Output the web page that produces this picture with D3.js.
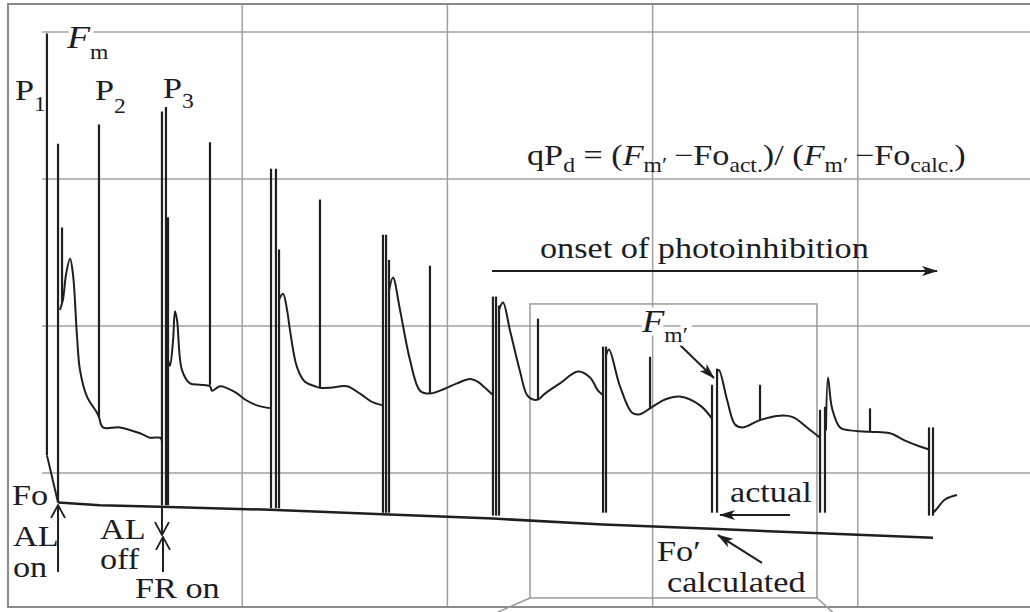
<!DOCTYPE html>
<meta charset="utf-8">
<style>
html, body { margin: 0; padding: 0; background: #fff; }
svg { display: block; }
.grid line { stroke: #a0a0a0; stroke-width: 1.5; }
.frame { fill: none; stroke: #8a8a8a; stroke-width: 2; }
.inset { fill: none; stroke: #9a9a9a; stroke-width: 1.5; }
.trace { fill: none; stroke: #1f1f1f; stroke-width: 2; stroke-linejoin: round; }
.pulse { stroke: #1f1f1f; stroke-width: 2.2; }
.foline { fill: none; stroke: #1f1f1f; stroke-width: 2.5; }
.arrow { stroke: #1f1f1f; stroke-width: 2; fill: none; }
text { font-family: "Liberation Serif", "Times New Roman", serif; font-size: 29px; fill: #1c1c24; }
</style>
<body>
<script src="https://cdn.jsdelivr.net/npm/d3@7"></script>
<script>

// time in s, fluorescence in relative units
var gridT = [20, 40, 60, 80];
var gridF = [1, 2, 3, 4];

// saturating pulses and light switching: [t, F low, F high]
var pulses = [
  [0.97, 1.12, 3.99], [2.05, 0.80, 3.24], [2.44, 2.16, 2.67], [6.04, 1.38, 3.37],
  [12.18, 0.78, 3.46], [12.57, 0.78, 3.49], [12.77, 0.78, 2.74], [16.86, 1.60, 3.25],
  [22.81, 0.76, 3.07], [23.29, 0.76, 3.07], [23.59, 0.76, 2.52], [27.58, 1.58, 2.86],
  [33.72, 0.73, 2.62], [34.02, 0.73, 2.62], [34.31, 0.73, 2.45], [38.30, 1.54, 2.41],
  [44.44, 0.71, 2.20], [44.74, 0.71, 2.20], [45.03, 0.71, 2.14], [48.83, 1.50, 2.05],
  [55.17, 0.73, 1.86], [55.46, 0.73, 1.86], [59.75, 1.44, 1.79],
  [65.79, 0.73, 1.60], [66.28, 0.73, 1.71], [70.47, 1.36, 1.60],
  [76.32, 0.73, 1.43], [76.80, 0.73, 1.45], [81.19, 1.28, 1.44],
  [86.94, 0.71, 1.31], [87.33, 0.71, 1.31]
];

// fluorescence trace between the pulses
var seg0 = [[0.97, 1.12], [2.05, 0.80]];
var seg1 = [[2.24, 2.11], [2.53, 2.18], [2.83, 2.35], [3.22, 2.46], [3.51, 2.35], [3.90, 1.93], [4.19, 1.70], [4.87, 1.52], [5.85, 1.41], [6.04, 1.38], [6.43, 1.31], [8.09, 1.31], [10.04, 1.27], [11.01, 1.24], [11.99, 1.24], [12.18, 1.22]];
var seg2 = [[12.77, 1.77], [12.96, 1.73], [13.26, 1.90], [13.45, 2.10], [13.65, 2.04], [14.13, 1.70], [14.91, 1.61], [15.89, 1.60], [16.86, 1.59], [17.06, 1.56], [17.84, 1.59], [19.30, 1.55], [20.27, 1.50], [21.44, 1.46], [22.81, 1.44]];
var seg3 = [[23.59, 2.18], [23.98, 2.22], [24.37, 2.11], [24.66, 1.97], [25.34, 1.72], [26.12, 1.62], [27.10, 1.59], [27.58, 1.58], [28.56, 1.58], [30.21, 1.59], [31.48, 1.54], [32.75, 1.48], [33.72, 1.46]];
var seg4 = [[34.31, 2.24], [34.70, 2.33], [35.38, 2.11], [36.35, 1.77], [37.33, 1.56], [38.30, 1.54], [39.28, 1.56], [40.94, 1.61], [42.20, 1.64], [42.98, 1.62], [43.66, 1.58], [44.44, 1.53]];
var seg5 = [[45.03, 2.11], [45.42, 2.16], [46.10, 1.97], [47.08, 1.69], [47.76, 1.53], [48.34, 1.50], [48.83, 1.50], [49.51, 1.54], [50.97, 1.61], [52.73, 1.69], [53.90, 1.65], [54.68, 1.56], [55.17, 1.53]];
var seg6 = [[55.46, 1.80], [55.75, 1.84], [56.82, 1.59], [58.00, 1.41], [58.77, 1.40], [59.75, 1.44], [61.21, 1.50], [62.67, 1.52], [64.62, 1.46], [65.79, 1.37]];
var seg7 = [[66.28, 1.69], [66.47, 1.70], [67.25, 1.50], [68.03, 1.33], [68.81, 1.31], [70.47, 1.36], [72.42, 1.39], [73.68, 1.38], [75.05, 1.31], [76.32, 1.24]];
var seg8 = [[76.90, 1.29], [77.10, 1.65], [77.49, 1.44], [78.27, 1.31], [79.24, 1.29], [81.19, 1.28], [83.14, 1.27], [84.60, 1.22], [86.06, 1.18], [86.94, 1.16]];
var seg9 = [[87.33, 0.73], [87.62, 0.75], [88.50, 0.82], [89.67, 0.85]];
var segments = [seg0, seg1, seg2, seg3, seg4, seg5, seg6, seg7, seg8, seg9];

// calculated Fo' baseline
var foCalc = [[2.05, 0.80], [6.14, 0.78], [11.99, 0.77], [22.71, 0.75], [33.72, 0.72], [44.44, 0.69], [55.17, 0.65], [65.79, 0.62], [76.32, 0.59], [87.33, 0.56]];

var W = 1030, H = 612, SX = 1.18;

var x = d3.scaleLinear().domain([0, 100]).range([37, 1063]);
var y = d3.scaleLinear().domain([0, 4]).range([620, 32]);

var svg = d3.select("body").append("svg").attr("width", W).attr("height", H);

var defs = svg.append("defs");
defs.append("marker").attr("id", "head")
    .attr("markerUnits", "userSpaceOnUse")
    .attr("markerWidth", 16).attr("markerHeight", 10)
    .attr("refX", 15).attr("refY", 5).attr("orient", "auto")
  .append("path").attr("d", "M0,0 L16,5 L0,10 L4,5 Z").attr("fill", "#1f1f1f");
defs.append("marker").attr("id", "vee")
    .attr("markerUnits", "userSpaceOnUse")
    .attr("markerWidth", 14).attr("markerHeight", 16)
    .attr("refX", 13).attr("refY", 8).attr("orient", "auto")
  .append("path").attr("d", "M0,1 L13,8 L0,15").attr("fill", "none")
    .attr("stroke", "#1f1f1f").attr("stroke-width", 1.8);

// grid
var grid = svg.append("g").attr("class", "grid");
grid.selectAll(".gv").data(gridT).enter().append("line")
    .attr("x1", d => x(d)).attr("x2", d => x(d)).attr("y1", 4).attr("y2", 607);
grid.selectAll(".gh").data(gridF).enter().append("line")
    .attr("x1", x(0.5)).attr("x2", W).attr("y1", d => y(d)).attr("y2", d => y(d));

// frame
svg.append("path").attr("class", "frame")
    .attr("d", "M" + (W + 5) + ",4 H8 V607 H" + (W + 5));

// inset box with callout lines
var box = [48.05, 76.02, 0.15, 2.15];
svg.append("rect").attr("class", "inset")
    .attr("x", x(box[0])).attr("y", y(box[3]))
    .attr("width", x(box[1]) - x(box[0])).attr("height", y(box[2]) - y(box[3]));
svg.append("line").attr("class", "inset")
    .attr("x1", x(box[0])).attr("y1", y(box[2])).attr("x2", x(44.8)).attr("y2", y(0.05));
svg.append("line").attr("class", "inset")
    .attr("x1", x(box[1])).attr("y1", y(box[2])).attr("x2", x(77.6)).attr("y2", y(0.05));

// Fo' calculated
var line = d3.line().x(d => x(d[0])).y(d => y(d[1]));
svg.append("path").attr("class", "foline").attr("d", line(foCalc));

// trace
var curve = d3.line().x(d => x(d[0])).y(d => y(d[1])).curve(d3.curveCatmullRom.alpha(0.5));
svg.selectAll(".trace").data(segments).enter().append("path")
    .attr("class", "trace").attr("d", d => curve(d));
svg.selectAll(".pulse").data(pulses).enter().append("line")
    .attr("class", "pulse")
    .attr("x1", d => x(d[0])).attr("x2", d => x(d[0]))
    .attr("y1", d => y(d[1])).attr("y2", d => y(d[2]));

// arrows
function arrow(a, b, m) {
  svg.append("line").attr("class", "arrow")
      .attr("x1", x(a[0])).attr("y1", y(a[1])).attr("x2", x(b[0])).attr("y2", y(b[1]))
      .attr("marker-end", "url(#" + m + ")");
}
arrow([44.35, 2.374], [87.72, 2.374], "head");
arrow([73.39, 0.714], [66.57, 0.714], "head");
arrow([70.66, 0.388], [66.37, 0.578], "head");
arrow([62.67, 1.871], [65.98, 1.646], "head");
arrow([2.05, 0.327], [2.05, 0.782], "vee");
arrow([12.18, 0.776], [12.18, 0.578], "vee");
arrow([12.28, 0.327], [12.28, 0.565], "vee");

// labels: parts are [text, baseline shift, italic, size]
function label(px, py, parts, halo) {
  var t = svg.append("text")
      .attr("transform", "translate(" + px + "," + py + ") scale(" + SX + ",1)");
  var shift = 0;
  parts.forEach(function(p) {
    var s = t.append("tspan").text(p[0]);
    var sh = p[1] || 0;
    if (sh - shift) s.attr("dy", sh - shift);
    shift = sh;
    if (sh) s.style("font-size", "20px");
    if (p[2]) s.style("font-style", "italic");
    if (p[3]) s.style("font-size", p[3] + "px");
  });
  if (halo) t.attr("stroke", "#fff").attr("stroke-width", 7).attr("paint-order", "stroke");
}

label(15, 100, [["P"], ["1", 11]]);
label(95, 100, [["P"], ["2", 13]]);
label(163, 98, [["P"], ["3", 10]]);
label(67, 48, [["F", 0, true, 32], ["m", 11]], true);
label(527, 165, [["qP"], ["d", 7], [" = ("], ["F", 0, true], ["m\u2032", 7], ["\u2009\u2212Fo"], ["act.", 7],
                 [")/ ("], ["F", 0, true], ["m\u2032", 7], ["\u2009\u2212Fo"], ["calc.", 7], [")"]]);
label(540, 258, [["onset of photoinhibition"]]);
label(642, 332, [["F", 0, true, 31], ["m\u2032", 10]], true);
label(730, 502, [["actual"]]);
label(657, 561, [["Fo\u2032"]]);
label(667, 592, [["calculated"]]);
label(12, 505, [["Fo"]]);
label(13, 546, [["AL"]]);
label(13, 577, [["on"]]);
label(100, 539, [["AL"]]);
label(100, 569, [["off"]]);
label(135, 598, [["FR on"]]);

</script>
